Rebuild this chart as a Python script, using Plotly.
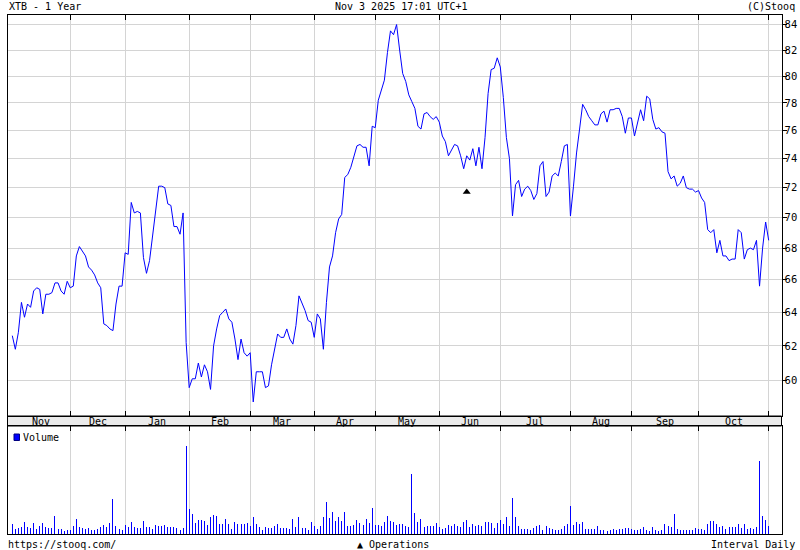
import pandas as pd
import plotly.graph_objects as go

# ---------------- data ----------------
title_left = "XTB - 1 Year"
title_center = "Nov 3 2025 17:01 UTC+1"
title_right = "(C)Stooq"
footer_left = "https://stooq.com/"
footer_center = "\u25b2 Operations"
footer_right = "Interval Daily"
volume_label = "Volume"

start_date = "2024-11-04"
end_date = "2025-11-03"
gpw_holidays = ["2024-11-11", "2024-12-24", "2024-12-25", "2024-12-26", "2024-12-31",
                "2025-01-01", "2025-01-06", "2025-04-18", "2025-04-21", "2025-05-01",
                "2025-06-19", "2025-08-15"]

close = [
    62.6, 61.8, 62.8, 64.6, 63.7, 64.5, 64.3, 65.3, 65.5, 65.4,
    63.9, 65.1, 65.1, 65.2, 65.8, 65.8, 65.3, 65.1, 65.9, 65.5,
    65.6, 67.5, 68.1, 67.8, 67.5, 66.8, 66.6, 66.3, 65.8, 65.5,
    63.3, 63.2, 63.0, 62.9, 64.5, 65.6, 65.6, 67.7, 67.6, 71.0,
    70.3, 70.4, 70.3, 67.4, 66.4, 67.2, 68.7, 70.6, 72.1, 72.1,
    72.0, 70.9, 70.8, 69.4, 69.4, 68.9, 70.3, 62.2, 59.6, 60.1,
    60.1, 61.0, 60.2, 60.9, 60.5, 59.5, 62.0, 63.0, 63.8, 64.0,
    64.2, 63.6, 63.4, 62.4, 61.2, 62.4, 61.6, 61.4, 61.6, 58.8,
    60.5, 60.5, 60.5, 59.6, 59.7, 60.9, 61.8, 62.7, 62.5, 62.5,
    63.0, 62.4, 62.1, 63.2, 65.0, 64.6, 64.1, 63.5, 63.4, 62.5,
    63.9, 63.6, 61.8, 64.6, 66.8, 67.5, 69.0, 69.9, 70.2, 72.7,
    72.9, 73.4, 74.2, 74.9, 75.0, 74.8, 74.8, 73.5, 76.3, 76.2,
    78.2, 79.0, 79.7, 81.8, 83.5, 83.2, 84.0, 82.0, 80.2, 79.6,
    78.6, 78.1, 77.6, 76.3, 76.1, 77.2, 77.3, 77.0, 76.8, 77.0,
    76.6, 75.6, 75.2, 74.2, 74.6, 75.0, 74.9, 74.2, 73.3, 74.2,
    73.9, 74.7, 73.5, 74.8, 73.3, 75.5, 78.7, 80.5, 80.6, 81.4,
    80.7, 78.4, 75.5, 74.0, 70.1, 72.2, 72.5, 71.4, 71.9, 72.1,
    71.8, 71.2, 71.6, 73.5, 73.8, 71.4, 71.7, 72.8, 73.0, 72.8,
    73.8, 74.9, 75.0, 70.1, 72.1, 74.4, 76.1, 77.9, 77.5, 77.0,
    76.7, 76.4, 76.4, 77.2, 77.4, 76.6, 77.5, 77.5, 77.6, 77.6,
    77.0, 75.8, 76.9, 76.9, 75.6, 76.5, 77.5, 76.7, 78.5, 78.3,
    76.8, 76.1, 76.2, 75.9, 75.8, 73.1, 72.6, 72.8, 72.1, 72.3,
    72.8, 72.0, 71.9, 71.9, 71.7, 71.8, 71.3, 71.0, 69.2, 69.0,
    69.2, 67.7, 68.5, 67.5, 67.5, 67.2, 67.3, 67.3, 69.2, 69.0,
    67.3, 67.9, 68.0, 67.9, 68.5, 65.6, 68.0, 69.7, 68.5,
]

# volume, in tens of thousands of shares (relative)
volume = [
    30, 15, 19, 22, 36, 21, 18, 33, 15, 24,
    33, 21, 18, 17, 54, 15, 15, 9, 12, 12,
    24, 45, 21, 18, 15, 18, 12, 12, 15, 21,
    27, 21, 33, 105, 24, 15, 12, 27, 21, 36,
    21, 18, 18, 39, 21, 21, 15, 27, 24, 24,
    27, 21, 21, 21, 18, 12, 18, 264, 75, 60,
    33, 42, 42, 39, 27, 51, 57, 54, 30, 30,
    45, 30, 15, 36, 30, 30, 30, 33, 24, 51,
    30, 21, 12, 21, 18, 18, 24, 30, 18, 18,
    18, 15, 45, 21, 51, 18, 18, 12, 36, 24,
    15, 24, 51, 96, 48, 66, 39, 51, 39, 66,
    24, 24, 27, 42, 33, 27, 45, 33, 78, 27,
    27, 24, 36, 54, 39, 36, 27, 30, 30, 24,
    21, 180, 63, 36, 45, 21, 24, 24, 24, 33,
    21, 15, 18, 27, 24, 30, 24, 21, 36, 42,
    21, 30, 24, 27, 24, 36, 36, 33, 18, 33,
    42, 30, 51, 24, 108, 51, 24, 15, 15, 15,
    12, 18, 24, 27, 12, 24, 18, 15, 12, 12,
    15, 24, 30, 84, 27, 36, 30, 36, 15, 15,
    15, 15, 24, 12, 12, 9, 12, 15, 12, 15,
    15, 18, 18, 15, 12, 12, 15, 21, 12, 9,
    21, 12, 9, 12, 30, 24, 21, 60, 15, 12,
    12, 12, 12, 12, 18, 15, 15, 12, 30, 39,
    39, 30, 21, 24, 15, 21, 21, 21, 30, 18,
    30, 15, 18, 15, 21, 219, 54, 42, 24,
]

price_ticks = [60, 62, 64, 66, 68, 70, 72, 74, 76, 78, 80, 82, 84]

ops_index = [149]
ops_value = [71.7]

# ---------------- derived ----------------
n = len(close)
dates = pd.bdate_range(start_date, end_date, freq="C", holidays=gpw_holidays)[:n]
idx = list(range(n))
months = [d.month for d in dates]
month_starts = [i for i in range(1, n) if months[i] != months[i - 1]]
seg_starts = [0] + month_starts
label_pos = []
label_txt = []
for k in range(len(seg_starts) - 1):
    s, e = seg_starts[k], seg_starts[k + 1]
    label_pos.append((s + e) / 2)
    label_txt.append(dates[s].strftime("%b"))

W, H = 800, 550
def px(x):
    return x / W
def py(y):
    return 1 - y / H

FONT = "DejaVu Sans Mono"
GRID = "#d4d4d4"
BLUE = "#0000ff"

x_range = [-1.57, 252.2]
log_range = [1.7636, 1.9282]

fig = go.Figure()
fig.add_trace(go.Scatter(x=idx, y=close, mode="lines",
                         line=dict(color=BLUE, width=1), xaxis="x", yaxis="y",
                         showlegend=False, hoverinfo="skip"))
fig.add_trace(go.Scatter(x=ops_index, y=ops_value, mode="markers",
                         marker=dict(symbol="triangle-up", size=7, color="black"),
                         xaxis="x", yaxis="y", showlegend=False, hoverinfo="skip"))
fig.add_trace(go.Bar(x=idx, y=volume, width=0.33, marker=dict(color=BLUE, line=dict(width=0)),
                     xaxis="x2", yaxis="y2", showlegend=False, hoverinfo="skip"))

dom_x = [px(7.5), px(781.5)]
main_dom = [py(416), py(15)]
vol_dom = [py(534), py(426)]

fig.update_layout(
    width=W, height=H,
    margin=dict(l=0, r=0, t=0, b=0),
    paper_bgcolor="white", plot_bgcolor="white",
    font=dict(family=FONT, size=10, color="black"),
    bargap=0,
    xaxis=dict(domain=dom_x, range=x_range, anchor="y",
               tickvals=month_starts, showticklabels=False,
               ticks="inside", ticklen=5, tickcolor="black", tickwidth=1,
               showgrid=True, gridcolor=GRID, gridwidth=1,
               showline=True, linecolor="black", linewidth=1, mirror="ticks",
               zeroline=False, fixedrange=True),
    yaxis=dict(domain=main_dom, type="log", range=log_range, anchor="x",
               side="right", tickvals=price_ticks, ticktext=[str(t) for t in price_ticks],
               ticks="outside", ticklen=4, tickcolor="black",
               ticklabelstandoff=-4,
               tickfont=dict(family=FONT, size=10.5),
               showgrid=True, gridcolor=GRID, gridwidth=1,
               showline=True, linecolor="black", linewidth=1, mirror=True,
               zeroline=False, automargin=False, fixedrange=True),
    yaxis3=dict(overlaying="y", anchor="x", side="left", type="log", range=log_range,
                tickvals=price_ticks, showticklabels=False,
                ticks="inside", ticklen=3, tickcolor="black",
                showgrid=False, showline=False, zeroline=False, fixedrange=True),
    xaxis2=dict(domain=dom_x, range=x_range, anchor="y2", side="top",
                tickvals=month_starts, showticklabels=False,
                ticks="inside", ticklen=5, tickcolor="black",
                showgrid=True, gridcolor=GRID, gridwidth=1,
                showline=True, linecolor="black", linewidth=1, mirror=True,
                zeroline=False, fixedrange=True),
    yaxis2=dict(domain=vol_dom, range=[0, 324], anchor="x2",
                showticklabels=False, ticks="", showgrid=False,
                showline=True, linecolor="black", linewidth=1, mirror=True,
                zeroline=False, fixedrange=True),
)

# month band between panels
fig.add_shape(type="rect", xref="paper", yref="paper",
              x0=dom_x[0], x1=dom_x[1], y0=py(426), y1=py(416),
              fillcolor="#ebebeb", line=dict(color="black", width=1), layer="below")

# month labels
for p, t in zip(label_pos, label_txt):
    fig.add_annotation(x=p, y=py(421), xref="x", yref="paper", text=t,
                       showarrow=False, xanchor="center", yanchor="middle",
                       font=dict(family=FONT, size=10))

# volume legend
fig.add_shape(type="rect", xref="paper", yref="paper",
              x0=px(14), x1=px(19.5), y0=py(440.5), y1=py(434),
              fillcolor=BLUE, line=dict(color="#000080", width=1))
fig.add_annotation(x=px(21), y=py(437.5), xref="paper", yref="paper", text=volume_label,
                   showarrow=False, xanchor="left", yanchor="middle",
                   font=dict(family=FONT, size=10))

# header / footer texts
def txt(x, y, s, anchor):
    fig.add_annotation(x=px(x), y=py(y), xref="paper", yref="paper", text=s,
                       showarrow=False, xanchor=anchor, yanchor="middle",
                       font=dict(family=FONT, size=10))

txt(7, 7, title_left, "left")
txt(401, 7, title_center, "center")
txt(797, 7, title_right, "right")
txt(6, 544, footer_left, "left")
txt(393, 544, footer_center, "center")
txt(797, 544, footer_right, "right")

fig.write_html("out.html",
               config={"displayModeBar": False, "staticPlot": True},
               post_script="document.body.style.margin='0';document.body.style.padding='0';")
